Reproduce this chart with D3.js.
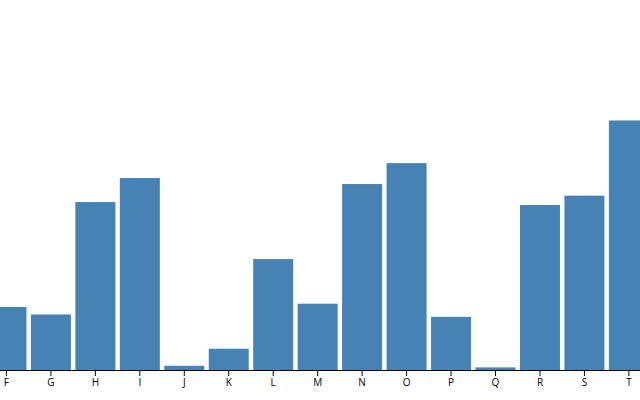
<!DOCTYPE html>
<html>
<head>
<meta charset="utf-8">
<script src="https://cdn.jsdelivr.net/npm/d3@7"></script>
<style>
  body { margin: 0; }
  svg { display: block; }
</style>
</head>
<body>
<div class="container"></div>
<script>
var letters = ["A","B","C","D","E","F","G","H","I","J","K","L","M","N","O","P","Q","R","S","T","U","V","W","X","Y","Z"];
var frequencies = [0.08167, 0.01492, 0.02782, 0.04253, 0.12702, 0.02288, 0.02015, 0.06094, 0.06966, 0.00153, 0.00772, 0.04025, 0.02406, 0.06749, 0.07507, 0.01929, 0.00095, 0.05987, 0.06327, 0.09056, 0.02758, 0.00978, 0.02360, 0.00150, 0.01974, 0.00074];

var svgWidth = 640;
var svgHeight = 400;
var margin = { top: 20, bottom: 30 };

// the view is zoomed in, so the band range runs past both edges
var xRange = [-240.3, 920.1];

var data = letters.map((l, i) => ({ letter: l, frequency: frequencies[i] }));

var svg = d3.select(".container")
    .append("svg")
    .attr("width", svgWidth)
    .attr("height", svgHeight)
    .attr("viewBox", [0, 0, svgWidth, svgHeight]);

var x = d3.scaleBand()
    .domain(letters)
    .range(xRange)
    .padding(0.1);

var y = d3.scaleLinear()
    .domain([0, d3.max(frequencies)])
    .range([svgHeight - margin.bottom, margin.top]);

svg.append("g")
    .attr("fill", "steelblue")
    .selectAll("rect")
    .data(data)
    .join("rect")
    .attr("x", d => x(d.letter))
    .attr("y", d => y(d.frequency))
    .attr("height", d => y(0) - y(d.frequency))
    .attr("width", x.bandwidth());

// only letters whose tick falls inside the window are shown
var visible = letters.filter(l => {
    var c = x(l) + x.bandwidth() / 2;
    return c >= 0 && c <= svgWidth;
});

svg.append("g")
    .attr("transform", `translate(0, ${svgHeight - margin.bottom})`)
    .call(d3.axisBottom(x).tickValues(visible).tickSizeOuter(0))
    .attr("font-family", "'Open Sans', sans-serif");
</script>
</body>
</html>
